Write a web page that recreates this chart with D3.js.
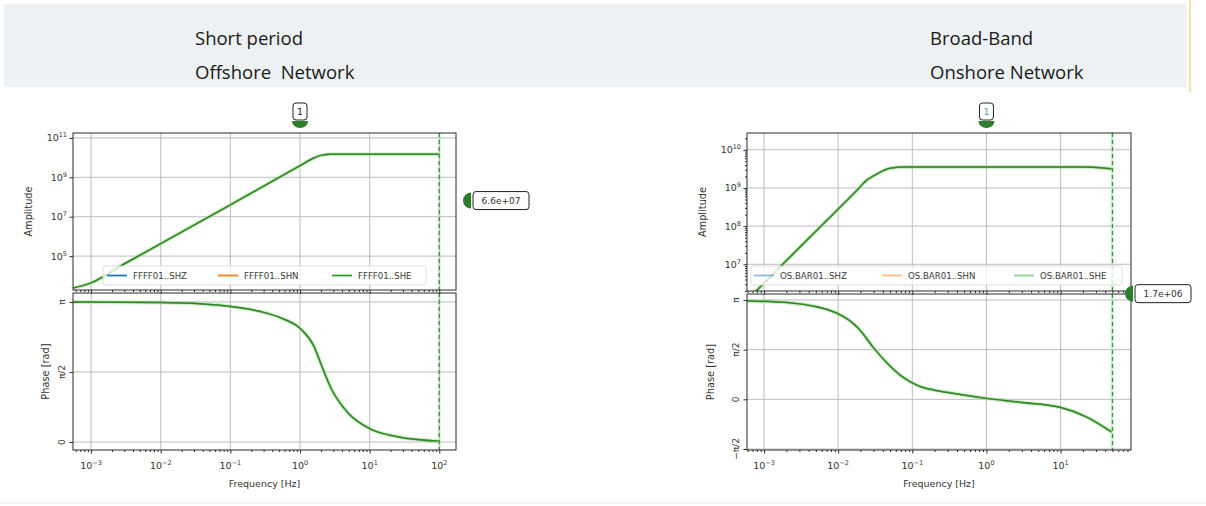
<!DOCTYPE html>
<html><head><meta charset="utf-8">
<script src="https://cdn.jsdelivr.net/npm/d3@7"></script>
<style>body{margin:0;background:#fff}svg{display:block}</style>
</head><body><svg id="c" width="1206" height="506"></svg>
<script>
// ---- Short-period offshore station: instrument response (all components identical)
const spFreq  = [5.5e-4, 1e-3, 3.2e-3, 1e-2, 1e-1, 1, 1.58, 2, 2.8, 5.4, 100];
const spAmp   = [2.4e3, 4.4e3, 4.6e4, 4.3e5, 4.0e7, 3.9e9, 9.5e9, 1.3e10, 1.48e10, 1.5e10, 1.5e10];
const spPhFreq = [5.5e-4, 1e-2, 3.7e-2, 0.1, 0.28, 0.54, 1, 1.58, 2, 2.8, 4.9, 10, 25, 100];
const spPhase  = [3.14, 3.13, 3.10, 3.04, 2.92, 2.78, 2.55, 2.15, 1.75, 1.20, 0.65, 0.30, 0.12, 0.02];
const spChannels = ["FFFF01..SHZ", "FFFF01..SHN", "FFFF01..SHE"];
const spFreqTicks = [1e-3, 1e-2, 1e-1, 1, 10, 100];
const spAmpTicks  = [1e5, 1e7, 1e9, 1e11];
const spPhaseTicks = [0, Math.PI / 2, Math.PI];
const spPhaseLabels = ["0", "π/2", "π"];
const spNyquist = 100;
const spPin = {freq: 1, label: "1"};
const spValue = {amp: 6.6e7, label: "6.6e+07"};

// ---- Broad-band onshore station
const bbFreq = [5.9e-4, 1.64e-3, 5.7e-3, 1.7e-2, 2.45e-2, 3.16e-2, 3.7e-2, 5.0e-2, 7.9e-2, 10, 20, 35, 49];
const bbAmp  = [1.15e6, 8.5e6, 9.5e7, 7.8e8, 1.62e9, 2.2e9, 2.6e9, 3.3e9, 3.55e9, 3.55e9, 3.52e9, 3.4e9, 3.2e9];
const bbPhFreq = [5.9e-4, 2.2e-3, 9.5e-3, 1.95e-2, 2.95e-2, 4.6e-2, 0.07, 0.1, 0.13, 0.2, 0.35, 1, 2.8, 9.8, 23, 49];
const bbPhase  = [3.11, 3.05, 2.73, 2.20, 1.65, 1.14, 0.75, 0.52, 0.40, 0.29, 0.19, 0.03, -0.09, -0.25, -0.57, -1.04];
const bbChannels = ["OS.BAR01..SHZ", "OS.BAR01..SHN", "OS.BAR01..SHE"];
const bbFreqTicks = [1e-3, 1e-2, 1e-1, 1, 10];
const bbAmpTicks  = [1e7, 1e8, 1e9, 1e10];
const bbPhaseTicks = [-Math.PI / 2, 0, Math.PI / 2, Math.PI];
const bbPhaseLabels = ["−π/2", "0", "π/2", "π"];
const bbNyquist = 50;
const bbPin = {freq: 1, label: "1"};
const bbValue = {amp: 1.7e6, label: "1.7e+06"};

const channelColors = ["#1f77b4", "#ff7f0e", "#2ca02c"];
const titles = [["Short period", "Offshore  Network"], ["Broad-Band", "Onshore Network"]];

const svg = d3.select("#c");
svg.append("rect").attr("width", 1206).attr("height", 506).attr("fill", "#fff");

// header band
svg.append("rect").attr("x", 4).attr("y", 4).attr("width", 1182).attr("height", 83).attr("fill", "#edf1f4");
svg.append("line").attr("x1", 1190).attr("x2", 1190).attr("y1", 0).attr("y2", 92)
  .attr("stroke", "#efe3a6").attr("stroke-width", 2);
svg.append("line").attr("x1", 0).attr("x2", 1206).attr("y1", 503).attr("y2", 503)
  .attr("stroke", "#ececec").attr("stroke-width", 1);

const titleX = [195, 930];
titles.forEach((t, i) => {
  t.forEach((s, j) => {
    svg.append("text").attr("x", titleX[i]).attr("y", 45 + j * 34)
      .attr("font-family", "'Open Sans', sans-serif").attr("font-size", 18.5)
      .attr("fill", "#1a1a1a").style("white-space", "pre").text(s);
  });
});

const FONT = "'DejaVu Sans', sans-serif";

function pow10Label(sel, v) {
  const e = Math.round(Math.log10(v));
  sel.text("10");
  sel.append("tspan").attr("dy", -4).attr("font-size", 6.5).text(e < 0 ? "−" + (-e) : String(e));
}

function minorValues(domain) {
  const out = [];
  const d0 = Math.floor(Math.log10(domain[0])), d1 = Math.ceil(Math.log10(domain[1]));
  for (let d = d0; d <= d1; d++) for (let k = 2; k <= 9; k++) {
    const v = k * Math.pow(10, d);
    if (v >= domain[0] && v <= domain[1]) out.push(v);
  }
  return out;
}

function drawPanel(cfg, id) {
  const L = cfg.layout;
  const g = svg.append("g");
  const x = d3.scaleLog().domain(L.xDomain).range([L.left, L.right]);
  const ya = d3.scaleLog().domain(L.ampDomain).range([L.ampBottom, L.top]);
  const yp = d3.scaleLinear().domain(L.phDomain).range([L.phBottom, L.phTop]);
  const W = L.right - L.left;

  const defs = svg.append("defs");
  defs.append("clipPath").attr("id", "ca" + id).append("rect")
    .attr("x", L.left).attr("y", L.top).attr("width", W).attr("height", L.ampBottom - L.top);
  defs.append("clipPath").attr("id", "cp" + id).append("rect")
    .attr("x", L.left).attr("y", L.phTop).attr("width", W).attr("height", L.phBottom - L.phTop);

  // grids
  const grid = g.append("g").attr("stroke", "#b4b4b4").attr("stroke-width", 0.9);
  cfg.freqTicks.forEach(f => {
    [[L.top, L.ampBottom], [L.phTop, L.phBottom]].forEach(([a, b]) =>
      grid.append("line").attr("x1", x(f)).attr("x2", x(f)).attr("y1", a).attr("y2", b));
  });
  cfg.ampTicks.forEach(v => grid.append("line").attr("x1", L.left).attr("x2", L.right).attr("y1", ya(v)).attr("y2", ya(v)));
  cfg.phaseTicks.forEach(v => grid.append("line").attr("x1", L.left).attr("x2", L.right).attr("y1", yp(v)).attr("y2", yp(v)));

  // response curves (three components overlap)
  const ampLine = d3.line().x((d, i) => x(cfg.freq[i])).y(d => ya(d)).curve(d3.curveMonotoneX);
  const phLine = d3.line().x((d, i) => x(cfg.phFreq[i])).y(d => yp(d)).curve(d3.curveMonotoneX);
  const ampG = g.append("g").attr("clip-path", `url(#ca${id})`).attr("fill", "none");
  const phG = g.append("g").attr("clip-path", `url(#cp${id})`).attr("fill", "none");
  [[ampG, ampLine, cfg.amp], [phG, phLine, cfg.phase]].forEach(([grp, gen, vals]) => {
    channelColors.forEach((c, k) => {
      if (k === 2) grp.append("path").attr("d", gen(vals)).attr("stroke", "#a6e0a0").attr("stroke-width", 4).attr("opacity", 0.55);
      grp.append("path").attr("d", gen(vals)).attr("stroke", k === 2 ? "#2a8a2a" : c).attr("stroke-width", 1.5);
    });
  });

  // Nyquist marker line across both panels
  [[L.top, L.ampBottom], [L.phTop, L.phBottom]].forEach(([a, b]) => {
    g.append("line").attr("x1", x(cfg.nyquist)).attr("x2", x(cfg.nyquist)).attr("y1", a).attr("y2", b)
      .attr("stroke", "#a6e0a0").attr("stroke-width", 3).attr("opacity", 0.45);
    g.append("line").attr("x1", x(cfg.nyquist)).attr("x2", x(cfg.nyquist)).attr("y1", a).attr("y2", b)
      .attr("stroke", "#2c9a2c").attr("stroke-width", 1.2).attr("stroke-dasharray", "4,3");
  });

  // legend
  const lg = g.append("g");
  lg.append("rect").attr("x", L.legend.x).attr("y", L.legend.y).attr("width", L.legend.w).attr("height", L.legend.h)
    .attr("rx", 2).attr("fill", "#fff").attr("fill-opacity", 0.8).attr("stroke", "#d6d6d6").attr("stroke-width", 0.8);
  cfg.channels.forEach((name, k) => {
    const lx = L.legend.items[k];
    const cy = L.legend.y + L.legend.h / 2;
    lg.append("line").attr("x1", lx).attr("x2", lx + 20).attr("y1", cy).attr("y2", cy)
      .attr("stroke", channelColors[k]).attr("stroke-width", 1.8).attr("opacity", L.legend.lineOpacity);
    lg.append("text").attr("x", lx + 26).attr("y", cy + 3.2).attr("font-family", FONT).attr("font-size", 8.6)
      .attr("fill", "#3a3a3a").text(name);
  });

  // spines
  [[L.top, L.ampBottom], [L.phTop, L.phBottom]].forEach(([a, b]) =>
    g.append("rect").attr("x", L.left).attr("y", a).attr("width", W).attr("height", b - a)
      .attr("fill", "none").attr("stroke", "#2b2b2b").attr("stroke-width", 1));

  // x ticks on both sub-axes
  [L.ampBottom, L.phBottom].forEach(yy => {
    const ax = g.append("g").attr("transform", `translate(0,${yy})`);
    ax.call(d3.axisBottom(x).tickValues(cfg.freqTicks).tickSize(3.5).tickFormat(""));
    ax.select(".domain").remove();
    const mx = g.append("g").attr("transform", `translate(0,${yy})`);
    mx.call(d3.axisBottom(x).tickValues(minorValues(L.xDomain)).tickSize(2).tickFormat(""));
    mx.select(".domain").remove();
  });

  // x tick labels
  cfg.freqTicks.forEach(f => {
    const t = g.append("text").attr("x", x(f)).attr("y", L.phBottom + 19).attr("text-anchor", "middle")
      .attr("font-family", FONT).attr("font-size", 9.5).attr("fill", "#333");
    pow10Label(t, f);
  });
  g.append("text").attr("x", (L.left + L.right) / 2).attr("y", L.phBottom + 37).attr("text-anchor", "middle")
    .attr("font-family", FONT).attr("font-size", 9.5).attr("fill", "#333").text("Frequency [Hz]");

  // amplitude y axis
  const ay = g.append("g").attr("transform", `translate(${L.left},0)`);
  ay.call(d3.axisLeft(ya).tickValues(cfg.ampTicks).tickSize(3.5).tickFormat(""));
  ay.select(".domain").remove();
  if (L.minorAmp) {
    const my = g.append("g").attr("transform", `translate(${L.left},0)`);
    my.call(d3.axisLeft(ya).tickValues(minorValues(L.ampDomain)).tickSize(2).tickFormat(""));
    my.select(".domain").remove();
  }
  cfg.ampTicks.forEach(v => {
    const t = g.append("text").attr("x", L.left - 6).attr("y", ya(v) + 3.5).attr("text-anchor", "end")
      .attr("font-family", FONT).attr("font-size", 9.5).attr("fill", "#333");
    pow10Label(t, v);
  });

  // phase y axis (rotated labels)
  const py = g.append("g").attr("transform", `translate(${L.left},0)`);
  py.call(d3.axisLeft(yp).tickValues(cfg.phaseTicks).tickSize(3.5).tickFormat(""));
  py.select(".domain").remove();
  g.selectAll(".tick line").attr("stroke", "#2b2b2b");
  cfg.phaseTicks.forEach((v, i) => {
    g.append("text").attr("transform", `translate(${L.left - 8},${yp(v)}) rotate(-90)`)
      .attr("text-anchor", "middle").attr("font-family", FONT).attr("font-size", 9).attr("fill", "#333")
      .text(cfg.phaseLabels[i]);
  });

  // axis titles
  g.append("text").attr("transform", `translate(${L.ampTitleX},${(L.top + L.ampBottom) / 2}) rotate(-90)`)
    .attr("text-anchor", "middle").attr("font-family", FONT).attr("font-size", 9.8).attr("fill", "#333").text("Amplitude");
  g.append("text").attr("transform", `translate(${L.phTitleX},${(L.phTop + L.phBottom) / 2}) rotate(-90)`)
    .attr("text-anchor", "middle").attr("font-family", FONT).attr("font-size", 9.8).attr("fill", "#333").text("Phase [rad]");

  // frequency pin above the amplitude panel
  const px = x(cfg.pin.freq);
  g.append("path").attr("d", `M${px - 8},${L.top - 12} L${px + 8},${L.top - 12} A8 7 0 0 1 ${px - 8},${L.top - 12} Z`)
    .attr("fill", "#2c7d2c");
  g.append("rect").attr("x", px - 7).attr("y", L.top - 30).attr("width", 14).attr("height", 17).attr("rx", 3)
    .attr("fill", "#fff").attr("stroke", "#222").attr("stroke-width", 1);
  g.append("text").attr("x", px).attr("y", L.top - 18).attr("text-anchor", "middle")
    .attr("font-family", FONT).attr("font-size", 9.5).attr("fill", L.pinText).text(cfg.pin.label);

  // amplitude value readout on the right
  const vy = ya(cfg.value.amp);
  const vx = L.right + L.valueGap;
  g.append("path").attr("d", `M${vx + 12},${vy - 8} L${vx + 12},${vy + 8} A8 8 0 0 1 ${vx + 12},${vy - 8} Z`)
    .attr("fill", "#2c7d2c");
  g.append("rect").attr("x", vx + 14).attr("y", vy - 9).attr("width", 56).attr("height", 18).attr("rx", 3)
    .attr("fill", "#fff").attr("stroke", "#222").attr("stroke-width", 1);
  g.append("text").attr("x", vx + 42).attr("y", vy + 3.3).attr("text-anchor", "middle")
    .attr("font-family", FONT).attr("font-size", 9).attr("fill", "#333").text(cfg.value.label);
}

drawPanel({
  freq: spFreq, amp: spAmp, phFreq: spPhFreq, phase: spPhase, channels: spChannels,
  freqTicks: spFreqTicks, ampTicks: spAmpTicks, phaseTicks: spPhaseTicks, phaseLabels: spPhaseLabels,
  nyquist: spNyquist, pin: spPin, value: spValue,
  layout: {
    left: 73, right: 456, top: 133, ampBottom: 290, phTop: 293, phBottom: 450,
    xDomain: [Math.pow(10, -3.26), Math.pow(10, 2.24)],
    ampDomain: [Math.pow(10, 3.28), Math.pow(10, 11.25)],
    phDomain: [-0.057 * Math.PI, 1.064 * Math.PI],
    legend: {x: 103, y: 266, w: 323, h: 19, items: [107, 218, 332], lineOpacity: 1},
    minorAmp: false, ampTitleX: 32, phTitleX: 49, valueGap: 3, pinText: "#222"
  }
}, 0);

drawPanel({
  freq: bbFreq, amp: bbAmp, phFreq: bbPhFreq, phase: bbPhase, channels: bbChannels,
  freqTicks: bbFreqTicks, ampTicks: bbAmpTicks, phaseTicks: bbPhaseTicks, phaseLabels: bbPhaseLabels,
  nyquist: bbNyquist, pin: bbPin, value: bbValue,
  layout: {
    left: 747, right: 1131, top: 133, ampBottom: 291, phTop: 294, phBottom: 450,
    xDomain: [Math.pow(10, -3.23), Math.pow(10, 1.95)],
    ampDomain: [Math.pow(10, 6.3), Math.pow(10, 10.44)],
    phDomain: [-0.51 * Math.PI, 1.06 * Math.PI],
    legend: {x: 751, y: 266, w: 371, h: 19, items: [754, 882, 1014], lineOpacity: 0.5},
    minorAmp: true, ampTitleX: 706, phTitleX: 714, valueGap: -10, pinText: "#5a9ab8"
  }
}, 1);
</script>
</body></html>
